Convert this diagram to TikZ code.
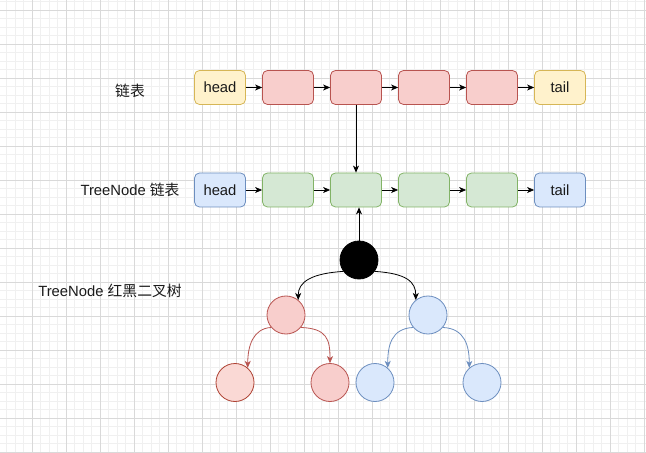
\documentclass[tikz,border=0pt]{standalone}
\usepackage{fontspec}
\setmainfont{Liberation Sans}
\newfontfamily\cjk{Noto Sans CJK SC}
\usetikzlibrary{arrows.meta}
\definecolor{yfill}{HTML}{FFF2CC}\definecolor{ydraw}{HTML}{D6B656}
\definecolor{rfill}{HTML}{F8CECC}\definecolor{rdraw}{HTML}{B85450}
\definecolor{rfillb}{HTML}{FAD9D5}\definecolor{rdrawb}{HTML}{AE4132}
\definecolor{bfill}{HTML}{DAE8FC}\definecolor{bdraw}{HTML}{6C8EBF}
\definecolor{gfill}{HTML}{D5E8D4}\definecolor{gdraw}{HTML}{82B366}
\definecolor{txt}{HTML}{1A1A1A}
\tikzset{
  minorgrid/.style={draw=black!6, line width=0.5bp},
  majorgrid/.style={draw=black!15, line width=0.6bp},
  box/.style={draw, rounded corners=5bp, minimum width=51bp, minimum height=34bp, inner sep=0pt, line width=0.8bp, font=\fontsize{14.8bp}{17bp}\selectfont, text=txt},
  ybox/.style={box, fill=yfill, draw=ydraw},
  rbox/.style={box, fill=rfill, draw=rdraw},
  gbox/.style={box, fill=gfill, draw=gdraw},
  bbox/.style={box, fill=bfill, draw=bdraw},
  circ/.style={circle, draw, minimum size=38bp, inner sep=0pt, line width=0.8bp},
  label/.style={font=\fontsize{14.8bp}{17bp}\selectfont, text=txt, inner sep=0pt},
  arr/.style={line width=0.8bp, -{Stealth[length=7bp,width=6bp,inset=2bp]}},
}
\begin{document}
\begin{tikzpicture}[x=1bp,y=-1bp]
\useasboundingbox (0,0) rectangle (646,453);
\fill[white] (0,0) rectangle (646,453);
\foreach \i in {0,...,77} {
  \draw[minorgrid] ({-2+8.5*\i},0) -- ({-2+8.5*\i},453);
}
\foreach \i in {0,...,54} {
  \draw[minorgrid] (0,{1.5+8.5*\i}) -- (646,{1.5+8.5*\i});
}
\foreach \i in {0,...,19} {
  \draw[majorgrid] ({-2+34*\i},0) -- ({-2+34*\i},453);
}
\foreach \i in {0,...,13} {
  \draw[majorgrid] (0,{10+34*\i}) -- (646,{10+34*\i});
}

% labels
\node[label] (l1) at (130,91) {\cjk 链表};
\node[label] (l2) at (130,190) {TreeNode {\cjk 链表}};
\node[label] (l3) at (110,291) {TreeNode {\cjk 红黑二叉树}};

% top row
\node[ybox] (a1) at (220,87.5) {head};
\node[rbox] (a2) at (288,87.5) {};
\node[rbox] (a3) at (356,87.5) {};
\node[rbox] (a4) at (424,87.5) {};
\node[rbox] (a5) at (492,87.5) {};
\node[ybox] (a6) at (560,87.5) {tail};

% second row
\node[bbox] (b1) at (220,190) {head};
\node[gbox] (b2) at (288,190) {};
\node[gbox] (b3) at (356,190) {};
\node[gbox] (b4) at (424,190) {};
\node[gbox] (b5) at (492,190) {};
\node[bbox] (b6) at (560,190) {tail};

\foreach \p/\q in {a1/a2,a2/a3,a3/a4,a4/a5,a5/a6,b1/b2,b2/b3,b3/b4,b4/b5,b5/b6}
  \draw[arr] (\p.east) -- (\q.west);

\draw[arr] (a3.south) -- (b3.north);

% tree
\node[circ, fill=black, draw=black] (rt) at (359,260) {};
\node[circ, fill=rfill, draw=rdraw] (rl) at (286,315) {};
\node[circ, fill=bfill, draw=bdraw] (rr) at (428,315) {};
\node[circ, fill=rfillb, draw=rdrawb] (rll) at (235,382.5) {};
\node[circ, fill=rfill, draw=rdraw] (rlr) at (330,382.5) {};
\node[circ, fill=bfill, draw=bdraw] (rrl) at (375,382.5) {};
\node[circ, fill=bfill, draw=bdraw] (rrr) at (482,382.5) {};

\draw[arr] (rt.north) -- (rt.north |- b3.south);

\draw[arr] (rt.216) .. controls +(-32,2) and +(0,-18) .. (rl.51);
\draw[arr] (rt.324) .. controls +(32,2) and +(0,-18) .. (rr.129);
\draw[arr, draw=rdraw, color=rdraw] (rl.220) .. controls +(-18,1) and +(0,-22) .. (rll.49);
\draw[arr, draw=rdraw, color=rdraw] (rl.320) .. controls +(26,1) and +(0,-24) .. (rlr.90);
\draw[arr, draw=bdraw, color=bdraw] (rr.220) .. controls +(-22,1) and +(0,-22) .. (rrl.49);
\draw[arr, draw=bdraw, color=bdraw] (rr.320) .. controls +(22,1) and +(0,-22) .. (rrr.131);
\end{tikzpicture}
\end{document}
